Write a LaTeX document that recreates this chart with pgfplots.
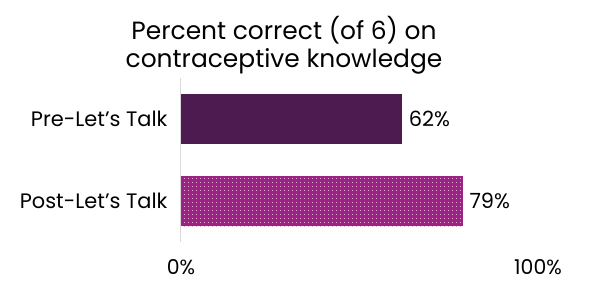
\documentclass[border=0pt]{standalone}
\usepackage{fontspec}
\setmainfont{Poppins}
\usepackage{pgfplots}
\pgfplotsset{compat=1.18}
\usetikzlibrary{patterns}
\definecolor{preC}{HTML}{4D1B50}
\definecolor{postC}{HTML}{9A2482}
\definecolor{dotC}{HTML}{E0A8D2}
\definecolor{axC}{HTML}{D9D9D9}
\pgfdeclarepatternformonly{mydots}{\pgfqpoint{-1bp}{-1bp}}{\pgfqpoint{3bp}{3bp}}{\pgfqpoint{4bp}{4bp}}{%
  \pgfpathrectangle{\pgfqpoint{-0.45bp}{-0.45bp}}{\pgfqpoint{0.9bp}{0.9bp}}\pgfusepath{fill}}
\begin{document}
\begin{tikzpicture}
\begin{axis}[
  at={(0,0)}, anchor=south west,
  scale only axis,
  width=357bp, height=164bp,
  xbar, bar width=50bp,
  xmin=0, xmax=100, ymin=-0.5, ymax=1.5,
  axis lines=left,
  x axis line style={draw=none},
  y axis line style={draw=axC, line width=1bp, -},
  xtick={0,100}, xticklabels={0\%,100\%},
  ytick={0,1}, yticklabels={Post-Let's Talk,Pre-Let's Talk},
  major tick length=0pt,
  tick style={draw=none},
  xticklabel style={font=\fontsize{20.5}{24}\selectfont, yshift=-14bp},
  yticklabel style={font=\fontsize{21}{24}\selectfont, xshift=-10bp},
  /pgf/number format/assume math mode=true,
  nodes near coords={\pgfmathprintnumber{\pgfplotspointmeta}\%},
  nodes near coords style={font=\fontsize{21}{24}\selectfont, anchor=west, xshift=3bp, black},
  clip=false,
]
\addplot[draw=none, fill=preC, bar shift=0pt] coordinates {(62,1)};
\addplot[draw=none, fill=postC, bar shift=0pt, postaction={pattern=mydots, pattern color=dotC}] coordinates {(79,0)};
\end{axis}
\node[anchor=base, font=\fontsize{25}{28}\selectfont] at (103bp,202bp) {Percent correct (of 6) on};
\node[anchor=base, font=\fontsize{25}{28}\selectfont] at (103bp,174bp) {contraceptive knowledge};
\pgfresetboundingbox
\path (-181bp,-44bp) rectangle (408bp,242bp);
\end{tikzpicture}
\end{document}
